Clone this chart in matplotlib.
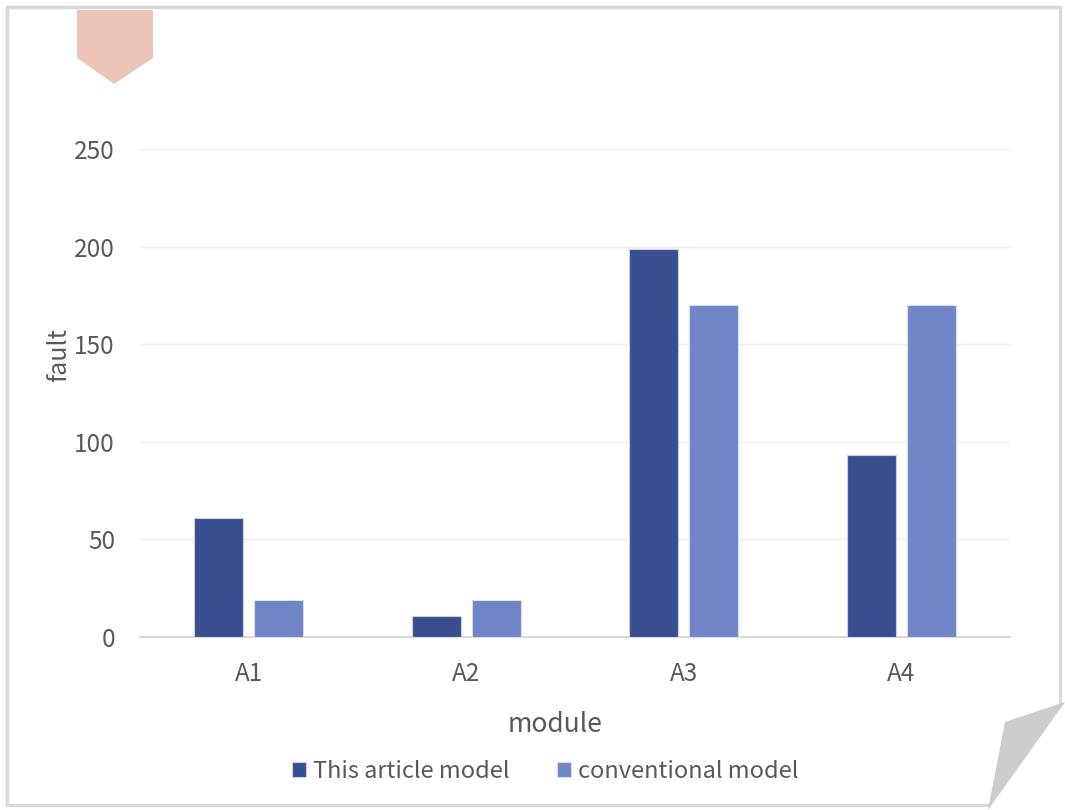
import matplotlib
matplotlib.use("Agg")
import matplotlib.pyplot as plt
import numpy as np
from matplotlib.patches import Polygon, Rectangle

categories = ["A1", "A2", "A3", "A4"]
this_article = [61, 11, 199, 93]
conventional = [19, 19, 170, 170]
series_names = ["This article model", "conventional model"]
yticks = [0, 50, 100, 150, 200, 250]

plt.rcParams['font.family'] = ['Noto Sans CJK SC', 'DejaVu Sans']

fig = plt.figure(figsize=(10.65, 8.1), dpi=100)
ax = fig.add_axes([140/1065, 1-637/810, 870/1065, 488/810])

x = np.arange(len(categories))
w = 0.225
gap = 0.05
c1, c2 = "#3a4f91", "#7186c8"
ax.bar(x - (w+gap)/2, this_article, w, color=c1, edgecolor="#c9d1ea", linewidth=0.8, label=series_names[0], zorder=3)
ax.bar(x + (w+gap)/2, conventional, w, color=c2, edgecolor="#d6ddf0", linewidth=0.8, label=series_names[1], zorder=3)

ax.set_xlim(-0.5, len(categories)-0.5)
ax.set_ylim(0, 250)
ax.set_yticks(yticks)
ax.set_xticks(x)
ax.set_xticklabels(categories)
ax.grid(axis='y', color="#eeeeee", linewidth=1, zorder=0)
for s in ["top", "right", "left"]:
    ax.spines[s].set_visible(False)
ax.spines["bottom"].set_color("#d9d9d9")
ax.spines["bottom"].set_linewidth(1.5)
ax.tick_params(axis='both', length=0, labelsize=17.5, colors="#595959")
ax.tick_params(axis='x', pad=17)
ax.tick_params(axis='y', pad=18)
ax.set_xlabel("module", fontsize=19, color="#595959")
ax.xaxis.set_label_coords((555-140)/870, -(711-637)/488)
ax.set_ylabel("fault", fontsize=18, color="#595959")
ax.yaxis.set_label_coords(-(140-72)/870, (637-355)/488)

leg = fig.legend(loc="center", bbox_to_anchor=(545/1065, 1-771/810), ncol=2, frameon=False,
                 fontsize=17, handlelength=0.6, handleheight=0.6, handletextpad=0.3, columnspacing=2.0,
                 labelcolor="#595959")

# decorative border
fig.patches.append(Rectangle((7/1065, 5/810), 1053/1065, 798/810, transform=fig.transFigure,
                             fill=False, edgecolor="#d9d9d9", linewidth=2.5))
# pink pentagon tag
pent = [(77, 10), (153, 10), (153, 58), (114, 84), (77, 58)]
fig.patches.append(Polygon([(px/1065, 1-py/810) for px, py in pent], closed=True,
                           transform=fig.transFigure, facecolor="#ecc5b8", edgecolor="none"))
# folded corner
fig.patches.append(Polygon([(px/1065, 1-py/810) for px, py in [(988, 810), (1065, 702), (1065, 810)]], closed=True,
                           transform=fig.transFigure, facecolor="white", edgecolor="none", zorder=5))
fig.patches.append(Polygon([(px/1065, 1-py/810) for px, py in [(988, 810), (1005, 722), (1065, 702)]], closed=True,
                           transform=fig.transFigure, facecolor="#cccccc", edgecolor="none", zorder=6))

fig.savefig("out.png", dpi=100)
